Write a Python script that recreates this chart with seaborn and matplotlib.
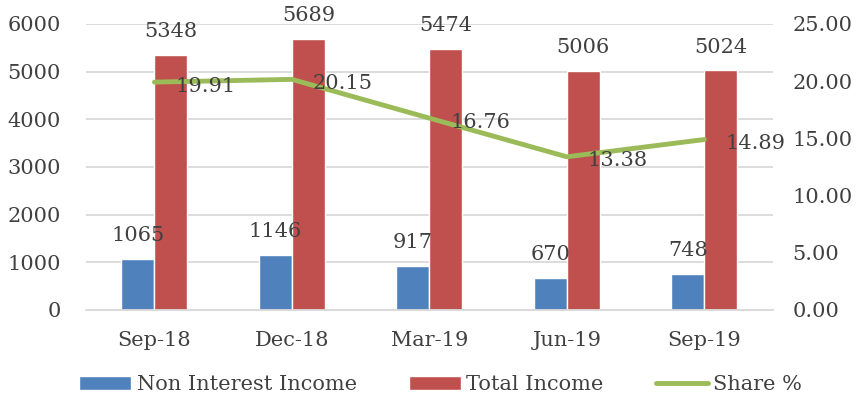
import pandas as pd
import matplotlib.pyplot as plt
import seaborn as sns
import numpy as np
from matplotlib.patches import Patch
from matplotlib.lines import Line2D
from matplotlib.ticker import FormatStrFormatter

# Dados
trimestres = ["Sep-18", "Dec-18", "Mar-19", "Jun-19", "Sep-19"]
non_interest_income = [1065, 1146, 917, 670, 748]
total_income = [5348, 5689, 5474, 5006, 5024]
share_pct = [19.91, 20.15, 16.76, 13.38, 14.89]

series_names = ["Non Interest Income", "Total Income"]
cores = ["#4F81BD", "#C0504D"]
cor_linha = "#9BBB59"
cor_texto = "#404040"
fs = 15

sns.set_theme(style="white")
plt.rcParams["font.family"] = ["DejaVu Serif"]

df = pd.DataFrame(
    {
        "Trimestre": trimestres * 2,
        "Serie": [series_names[0]] * len(trimestres) + [series_names[1]] * len(trimestres),
        "Valor": non_interest_income + total_income,
    }
)

fig, ax = plt.subplots(figsize=(8.57, 4.05), dpi=100)
fig.subplots_adjust(left=0.100, right=0.902, top=0.941, bottom=0.235)

sns.barplot(
    data=df,
    x="Trimestre",
    y="Valor",
    hue="Serie",
    order=trimestres,
    hue_order=series_names,
    palette=cores,
    width=0.48,
    saturation=1,
    legend=False,
    ax=ax,
)

ax.set_ylim(0, 6000)
ax.set_yticks(range(0, 7000, 1000))
ax.set_xlim(-0.5, len(trimestres) - 0.5)
ax.grid(axis="y", color="#D9D9D9", linewidth=1.3)
ax.set_axisbelow(True)
ax.set_xlabel("")
ax.set_ylabel("")
for s in ["top", "left", "right"]:
    ax.spines[s].set_visible(False)
ax.spines["bottom"].set_color("#D9D9D9")
ax.spines["bottom"].set_linewidth(1.3)
ax.tick_params(axis="both", length=0, labelsize=fs, colors=cor_texto)
ax.tick_params(axis="x", pad=15)
ax.tick_params(axis="y", pad=18)

for container in ax.containers:
    ax.bar_label(container, fmt="%d", fontsize=fs, color=cor_texto, padding=10)

# Eixo secundário
ax2 = ax.twinx()
sns.lineplot(
    x=np.arange(len(trimestres)),
    y=share_pct,
    color=cor_linha,
    linewidth=3.5,
    ax=ax2,
)
ax2.set_ylim(0, 25)
ax2.set_yticks(np.arange(0, 30, 5))
ax2.yaxis.set_major_formatter(FormatStrFormatter("%.2f"))
ax2.set_ylabel("")
for s in ["top", "left", "right", "bottom"]:
    ax2.spines[s].set_visible(False)
ax2.tick_params(axis="y", length=0, labelsize=fs, colors=cor_texto, pad=14)

for i, v in enumerate(share_pct):
    ax2.annotate(
        f"{v:.2f}",
        xy=(i, v),
        xytext=(15, -3),
        textcoords="offset points",
        ha="left",
        va="center",
        fontsize=fs,
        color=cor_texto,
    )

handles = [
    Patch(facecolor=cores[0], label=series_names[0]),
    Patch(facecolor=cores[1], label=series_names[1]),
    Line2D([0], [0], color=cor_linha, linewidth=3.5, label="Share %"),
]
leg = fig.legend(
    handles=handles,
    loc="lower center",
    bbox_to_anchor=(0.514, -0.02),
    ncol=3,
    frameon=False,
    fontsize=fs,
    handlelength=2.5,
    handleheight=0.7,
    handletextpad=0.25,
    columnspacing=2.5,
)
for t in leg.get_texts():
    t.set_color(cor_texto)

plt.savefig("out.png", dpi=100)
